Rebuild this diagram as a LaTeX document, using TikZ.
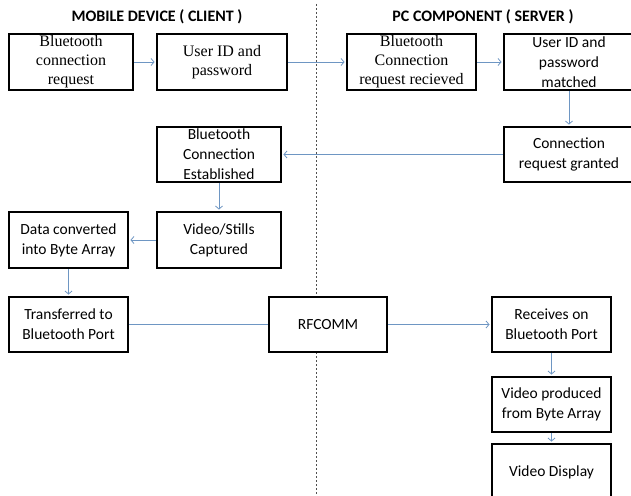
\documentclass[tikz,border=0pt]{standalone}
\usepackage{fontspec}
\setmainfont{Liberation Serif}
\newfontfamily\calib{Carlito}
\usetikzlibrary{arrows.meta}
\definecolor{linkblue}{RGB}{110,150,195}
\definecolor{dashgray}{RGB}{80,80,80}

\begin{document}
\begin{tikzpicture}[x=1pt,y=-1pt]
        \tikzstyle{every node}+=[inner sep=0pt]
        \tikzstyle{box}=[draw=black, line width=2.5pt, align=center, fill=white]
        \tikzstyle{serif}=[font=\fontsize{16}{19}\selectfont]
        \tikzstyle{sans}=[font=\calib\fontsize{15.5}{20}\selectfont]
        \tikzstyle{plain}=[draw=linkblue, line width=0.8pt]
        \tikzstyle{link}=[plain, -{Straight Barb[length=3pt,width=7pt]}, shorten >=1.2pt]
        \useasboundingbox (0,0) rectangle (631,495);
        % divider between the two sides
        \coordinate (divtop) at (316,4);
        \coordinate (divbot) at (316,495);
        \draw [dashgray, line width=0.7pt, dash pattern=on 2pt off 2pt] (divtop) -- (divbot);
        % headings
        \node [font=\calib\bfseries\fontsize{16}{18}\selectfont] (client) at (157,17) {MOBILE DEVICE ( CLIENT )};
        \node [font=\calib\bfseries\fontsize{16}{18}\selectfont] (server) at (483,17) {PC COMPONENT ( SERVER )};
        % mobile side
        \node [box, serif, minimum width=124pt, minimum height=56pt] (btreq) at (71,62) {Bluetooth\\connection\\request};
        \node [box, serif, minimum width=130pt, minimum height=56pt] (userid) at (222,62) {User ID and\\password};
        \node [box, sans, minimum width=124pt, minimum height=55pt] (btest) at (219,154.5) {Bluetooth\\Connection\\Established};
        \node [box, sans, minimum width=124pt, minimum height=56pt] (capture) at (219,240) {Video/Stills\\Captured};
        \node [box, sans, minimum width=119pt, minimum height=56pt] (bytes) at (68.5,240) {Data converted\\into Byte Array};
        \node [box, sans, minimum width=119pt, minimum height=55pt] (sendport) at (68.5,324.5) {Transferred to\\Bluetooth Port};
        \node [box, sans, minimum width=118pt, minimum height=55pt] (rfcomm) at (328,324.5) {RFCOMM};
        % pc side
        \node [box, serif, minimum width=129pt, minimum height=56pt] (btrecv) at (411.5,62) {Bluetooth\\Connection\\request recieved};
        \node [box, sans, minimum width=130pt, minimum height=56pt] (matched) at (569,62) {User ID and\\password\\matched};
        \node [box, sans, minimum width=130pt, minimum height=55pt] (granted) at (569,154.5) {Connection\\request granted};
        \node [box, sans, minimum width=119pt, minimum height=55pt] (recvport) at (551.5,324.5) {Receives on\\Bluetooth Port};
        \node [box, sans, minimum width=119pt, minimum height=55pt] (produce) at (551.5,404.5) {Video produced\\from Byte Array};
        \node [box, sans, minimum width=119pt, minimum height=56pt] (display) at (551.5,472) {Video Display};
        % connectors
        \draw [link] (btreq) -- (userid);
        \draw [link] (userid) -- (btrecv);
        \draw [link] (btrecv) -- (matched);
        \draw [link] (matched) -- (granted);
        \draw [link] (granted) -- (btest);
        \draw [link] (btest) -- (capture);
        \draw [link] (capture) -- (bytes);
        \draw [link] (bytes) -- (sendport);
        \draw [plain] (sendport) -- (rfcomm);
        \draw [link] (rfcomm) -- (recvport);
        \draw [link] (recvport) -- (produce);
        \draw [link] (produce) -- (display);
\end{tikzpicture}
\end{document}
